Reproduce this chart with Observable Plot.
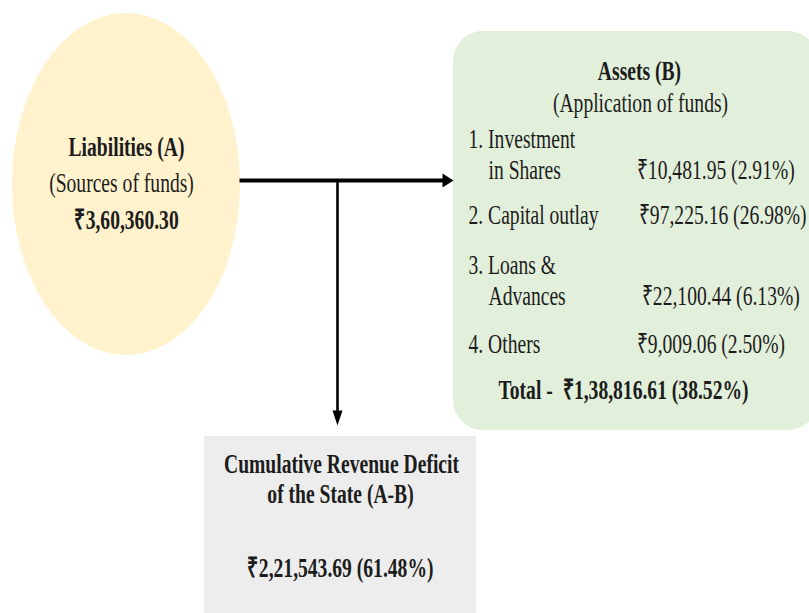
<!DOCTYPE html>
<html><head><meta charset="utf-8">
<script src="https://cdn.jsdelivr.net/npm/d3@7"></script>
<script src="https://cdn.jsdelivr.net/npm/@observablehq/plot@0.6"></script>
<style>body{margin:0;background:#fff}</style>
</head><body><div id="chart"></div>
<script>
// ---- data ----
const liabilityTitle = ["Liabilities (A)", "(Sources of funds)"];
const liabilityTotal = 360360.30;
const assetTitle = ["Assets (B)", "(Application of funds)"];
const assetLabels = [["1. Investment", "in Shares"], ["2. Capital outlay"], ["3. Loans &", "Advances"], ["4. Others"]];
const assetValues = [10481.95, 97225.16, 22100.44, 9009.06];
const assetTotal = 138816.61;
const deficitTitle = ["Cumulative Revenue Deficit", "of the State (A-B)"];
const deficitValue = 221543.69;

// ---- helpers ----
function inr(v) {
  const [i, d] = v.toFixed(2).split(".");
  let last3 = i.slice(-3), rest = i.slice(0, -3);
  if (rest) rest = rest.replace(/\B(?=(\d{2})+(?!\d))/g, ",") + ",";
  return "₹" + rest + last3 + "." + d;
}
const pct = v => (v / liabilityTotal * 100).toFixed(2) + "%";

// ---- layout ----
const W = 809, H = 613;
const shapes = [{x1: 12, x2: 240, y1: 13, y2: 355, fill: "#FFF2CC"}];
const boxes = [{x1: 453, x2: 818, y1: 31, y2: 430, fill: "#E2EFDA"}];
const grayBox = [{x1: 204, x2: 476, y1: 436, y2: 613, fill: "#EDEDED"}];
const lines = [
  {x1: 239, y1: 180, x2: 443, y2: 180},
  {x1: 337, y1: 180, x2: 337, y2: 411}
];
function headSymbol(dx, dy, len, wid) {
  return {draw(ctx) {
    const px = -dy, py = dx;
    ctx.moveTo(dx * len / 2, dy * len / 2);
    ctx.lineTo(-dx * len / 2 + px * wid / 2, -dy * len / 2 + py * wid / 2);
    ctx.lineTo(-dx * len / 2 - px * wid / 2, -dy * len / 2 - py * wid / 2);
    ctx.closePath();
  }};
}
const heads = [
  {x: 447.5, y: 180, s: headSymbol(1, 0, 11, 14)},
  {x: 337, y: 417.5, s: headSymbol(0, 1, 15, 10)}
];

// text items
const T = [];
T.push({x: 126, y: 155, text: liabilityTitle[0], a: "middle", b: true});
T.push({x: 121, y: 191, text: liabilityTitle[1], a: "middle", b: false});
T.push({x: 126, y: 228, text: inr(liabilityTotal), a: "middle", b: true});
T.push({x: 639, y: 79, text: assetTitle[0], a: "middle", b: true});
T.push({x: 640, y: 111, text: assetTitle[1], a: "middle", b: false});
const rowBase = [[147, 178], [223], [273, 304], [352]];
const valX = [636, 638, 641, 636];
assetLabels.forEach((lab, i) => {
  lab.forEach((t, j) => T.push({x: j === 0 ? 468 : 488, y: rowBase[i][j], text: t, a: "start", b: false}));
  T.push({x: valX[i], y: rowBase[i][rowBase[i].length - 1], text: `${inr(assetValues[i])} (${pct(assetValues[i])})`, a: "start", b: false});
});
T.push({x: 498, y: 398, text: `Total -  ${inr(assetTotal)} (${pct(assetTotal)})`, a: "start", b: true});
T.push({x: 341, y: 472, text: deficitTitle[0], a: "middle", b: true});
T.push({x: 340, y: 502, text: deficitTitle[1], a: "middle", b: true});
T.push({x: 340, y: 576, text: `${inr(deficitValue)} (${pct(deficitValue)})`, a: "middle", b: true});

const font = "'Liberation Serif', 'Times New Roman', serif";
const FS = 28, SX = 0.70;
const textMark = (a, b) => Plot.text(T.filter(d => d.a === a && d.b === b), {
  x: "x", y: "y", text: "text", textAnchor: a, lineAnchor: "bottom",
  fontSize: FS, fontWeight: b ? "bold" : "normal", fontFamily: font, fill: "#1c1c1c"
});

const svg = Plot.plot({
  width: W, height: H, margin: 0,
  x: {domain: [0, W], range: [0, W], axis: null},
  y: {domain: [0, H], range: [0, H], axis: null},
  style: {background: "#fff", overflow: "hidden"},
  marks: [
    Plot.rect(shapes, {x1: "x1", x2: "x2", y1: "y1", y2: "y2", fill: "fill", rx: 114, ry: 171}),
    Plot.rect(boxes, {x1: "x1", x2: "x2", y1: "y1", y2: "y2", fill: "fill", rx: 30, ry: 30}),
    Plot.rect(grayBox, {x1: "x1", x2: "x2", y1: "y1", y2: "y2", fill: "fill"}),
    Plot.link(lines.slice(0, 1), {x1: "x1", y1: "y1", x2: "x2", y2: "y2", stroke: "#000", strokeWidth: 4}),
    Plot.link(lines.slice(1), {x1: "x1", y1: "y1", x2: "x2", y2: "y2", stroke: "#000", strokeWidth: 2.6}),
    Plot.dot(heads.slice(0, 1), {x: "x", y: "y", symbol: heads[0].s, r: 5, fill: "#000", stroke: "none"}),
    Plot.dot(heads.slice(1), {x: "x", y: "y", symbol: heads[1].s, r: 5, fill: "#000", stroke: "none"}),
    textMark("middle", true), textMark("middle", false),
    textMark("start", true), textMark("start", false)
  ]
});
// narrow the serif text horizontally, as in the reference
svg.querySelectorAll("text").forEach(t => {
  const tr = t.getAttribute("transform");
  if (tr) t.setAttribute("transform", tr + ` scale(${SX},1)`);
  else {
    const x = +t.getAttribute("x") || 0, y = +t.getAttribute("y") || 0;
    t.setAttribute("transform", `translate(${x},${y}) scale(${SX},1) translate(${-x},${-y})`);
  }
});
document.getElementById("chart").appendChild(svg);
</script></body></html>
